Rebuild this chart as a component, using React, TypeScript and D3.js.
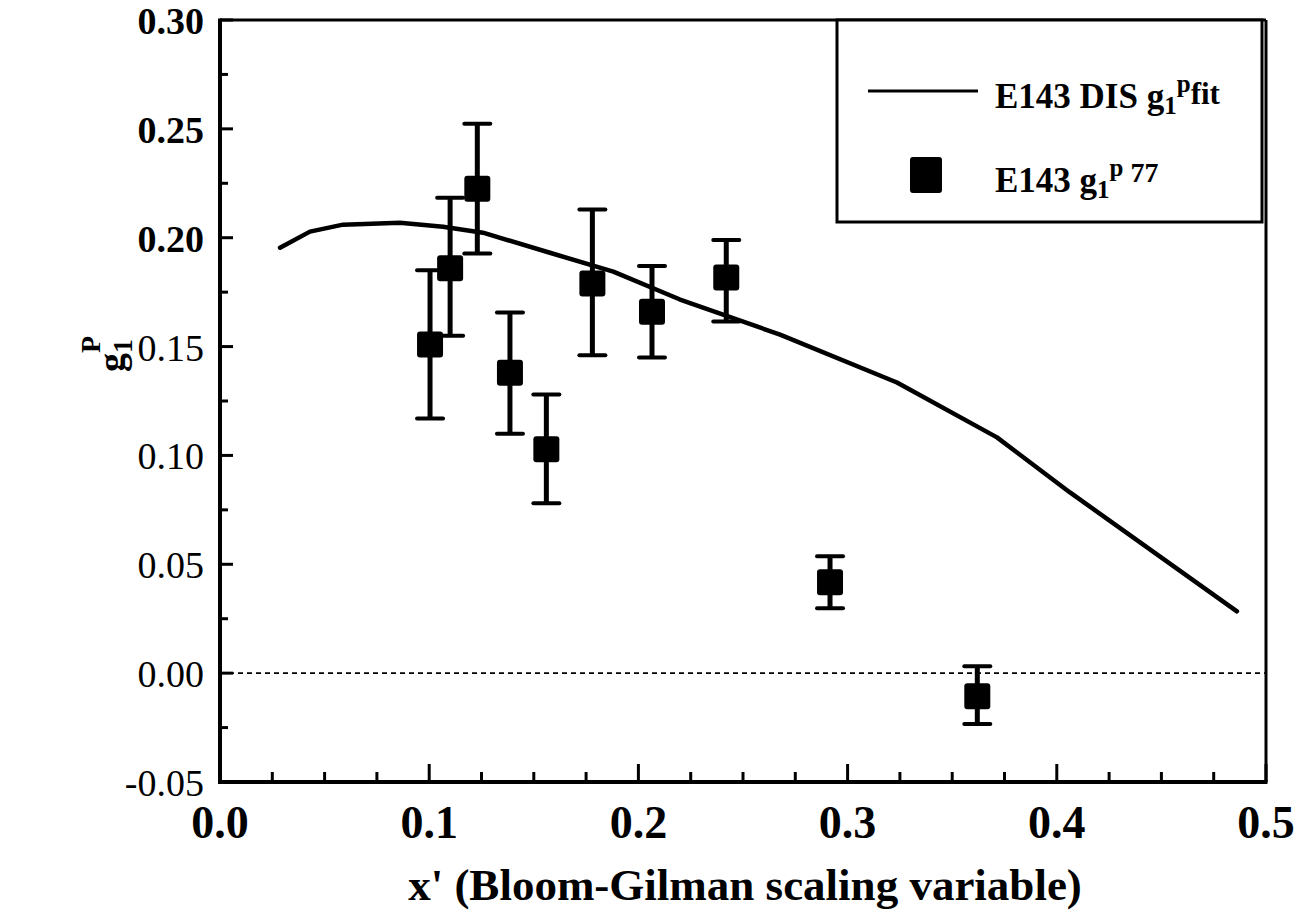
import React from "react";
import * as d3 from "d3";

const xTicks = [0, 0.1, 0.2, 0.3, 0.4, 0.5];
const xTickLabels = ["0.0", "0.1", "0.2", "0.3", "0.4", "0.5"];
const yTicks = [-0.05, 0, 0.05, 0.1, 0.15, 0.2, 0.25, 0.3];
const yTickLabels = ["-0.05", "0.00", "0.05", "0.10", "0.15", "0.20", "0.25", "0.30"];
const xMinor = [0.025, 0.05, 0.075, 0.125, 0.15, 0.175, 0.225, 0.25, 0.275, 0.325, 0.35, 0.375, 0.425, 0.45, 0.475];
const yMinor = [-0.025, 0.025, 0.075, 0.125, 0.175, 0.225, 0.275];

// E143 DIS g1p fit (curve)
const fitX = [0.0287, 0.043, 0.0588, 0.086, 0.1066, 0.1257, 0.1577, 0.188, 0.2199, 0.2677, 0.3236, 0.3714, 0.4063, 0.4861];
const fitY = [0.1954, 0.2028, 0.206, 0.2069, 0.205, 0.2023, 0.1931, 0.1844, 0.1716, 0.1555, 0.1335, 0.1083, 0.083, 0.0284];

// E143 g1p data points
const ptX = [0.1004, 0.11, 0.123, 0.1386, 0.156, 0.178, 0.2065, 0.242, 0.2916, 0.362];
const ptY = [0.151, 0.186, 0.2225, 0.138, 0.1028, 0.179, 0.166, 0.1817, 0.0417, -0.0106];
const ptHi = [0.185, 0.2183, 0.2523, 0.1656, 0.128, 0.213, 0.187, 0.199, 0.0537, 0.0032];
const ptLo = [0.117, 0.155, 0.1927, 0.11, 0.078, 0.146, 0.145, 0.1615, 0.0298, -0.0234];

const W = 1314;
const H = 922;
const L = 220, R = 1266, T = 20, B = 782;

export default function App() {
  const x = d3.scaleLinear().domain([0, 0.5]).range([L, R]);
  const y = d3.scaleLinear().domain([-0.05, 0.3]).range([B, T]);
  const line = d3
    .line<number>()
    .x((_, i) => x(fitX[i]))
    .y((d) => y(d))
    .curve(d3.curveLinear);
  const serif = "'Liberation Serif', 'Times New Roman', serif";
  const sq = 26;
  const cap = 26;
  return (
    <svg width={W} height={H} style={{ position: "absolute", left: 0, top: 0, background: "#fff" }} fontFamily={serif}>
      <rect x={0} y={0} width={W} height={H} fill="#fff" />
      {/* zero dashed line */}
      <line x1={L} x2={R} y1={y(0)} y2={y(0)} stroke="#000" strokeWidth={1.6} strokeDasharray="5 4" />
      {/* frame */}
      <line x1={L} x2={R} y1={T} y2={T} stroke="#000" strokeWidth={3} />
      <line x1={R} x2={R} y1={T} y2={B} stroke="#000" strokeWidth={3} />
      <line x1={L} x2={L} y1={T - 1.5} y2={B + 2} stroke="#000" strokeWidth={4} />
      <line x1={L - 2} x2={R + 1.5} y1={B} y2={B} stroke="#000" strokeWidth={4} />
      {/* y ticks */}
      {yTicks.map((t, i) => (
        <g key={"yt" + i}>
          <line x1={L} x2={L + 13} y1={y(t)} y2={y(t)} stroke="#000" strokeWidth={3} />
          <text
            x={L - 16}
            y={y(t) + 14}
            textAnchor="end"
            fontSize={38}
            fontWeight={t >= 0.2 ? "bold" : "normal"}
          >
            {yTickLabels[i]}
          </text>
        </g>
      ))}
      {yMinor.map((t, i) => (
        <line key={"ym" + i} x1={L} x2={L + 8} y1={y(t)} y2={y(t)} stroke="#000" strokeWidth={3} />
      ))}
      {/* x ticks */}
      {xTicks.map((t, i) => (
        <g key={"xt" + i}>
          <line x1={x(t)} x2={x(t)} y1={B} y2={B - 18} stroke="#000" strokeWidth={3} />
          <text x={x(t)} y={B + 56} textAnchor="middle" fontSize={46} fontWeight="bold">
            {xTickLabels[i]}
          </text>
        </g>
      ))}
      {xMinor.map((t, i) => (
        <line key={"xm" + i} x1={x(t)} x2={x(t)} y1={B} y2={B - 10} stroke="#000" strokeWidth={3} />
      ))}
      {/* fit curve */}
      <path d={line(fitY) || ""} fill="none" stroke="#000" strokeWidth={4.5} strokeLinejoin="round" strokeLinecap="round" />
      {/* data points */}
      {ptX.map((px, i) => (
        <g key={"p" + i}>
          <line x1={x(px)} x2={x(px)} y1={y(ptHi[i])} y2={y(ptLo[i])} stroke="#000" strokeWidth={5} />
          <line x1={x(px) - cap / 2} x2={x(px) + cap / 2} y1={y(ptHi[i])} y2={y(ptHi[i])} stroke="#000" strokeWidth={4} strokeLinecap="round" />
          <line x1={x(px) - cap / 2} x2={x(px) + cap / 2} y1={y(ptLo[i])} y2={y(ptLo[i])} stroke="#000" strokeWidth={4} strokeLinecap="round" />
          <rect x={x(px) - sq / 2} y={y(ptY[i]) - sq / 2} width={sq} height={sq} rx={3} fill="#000" />
        </g>
      ))}
      {/* legend */}
      <rect x={837} y={T} width={R - 837 - 4} height={202} fill="#fff" stroke="#000" strokeWidth={3} />
      <line x1={868} x2={978} y1={91} y2={91} stroke="#000" strokeWidth={3} />
      <text x={995} y={108} fontSize={35} fontWeight="bold">
        E143 DIS g<tspan fontSize={25} dy={6}>1</tspan>
        <tspan fontSize={25} dy={-22}>p</tspan>
        <tspan fontSize={31} dy={12}>fit</tspan>
      </text>
      <rect x={910} y={157} width={32} height={36} rx={3} fill="#000" />
      <text x={995} y={192} fontSize={35} fontWeight="bold">
        E143 g<tspan fontSize={25} dy={6}>1</tspan>
        <tspan fontSize={25} dy={-22}>p</tspan>
        <tspan fontSize={28} dy={6}> 77</tspan>
      </text>
      {/* axis titles */}
      <text x={745} y={900} textAnchor="middle" fontSize={45} fontWeight="bold">
        x' (Bloom-Gilman scaling variable)
      </text>
      <text transform="translate(124,372) rotate(-90)" fontSize={38} fontWeight="bold">
        g<tspan fontSize={28} dy={8}>1</tspan>
        <tspan fontSize={28} dx={-14} dy={-32}>P</tspan>
      </text>
    </svg>
  );
}
